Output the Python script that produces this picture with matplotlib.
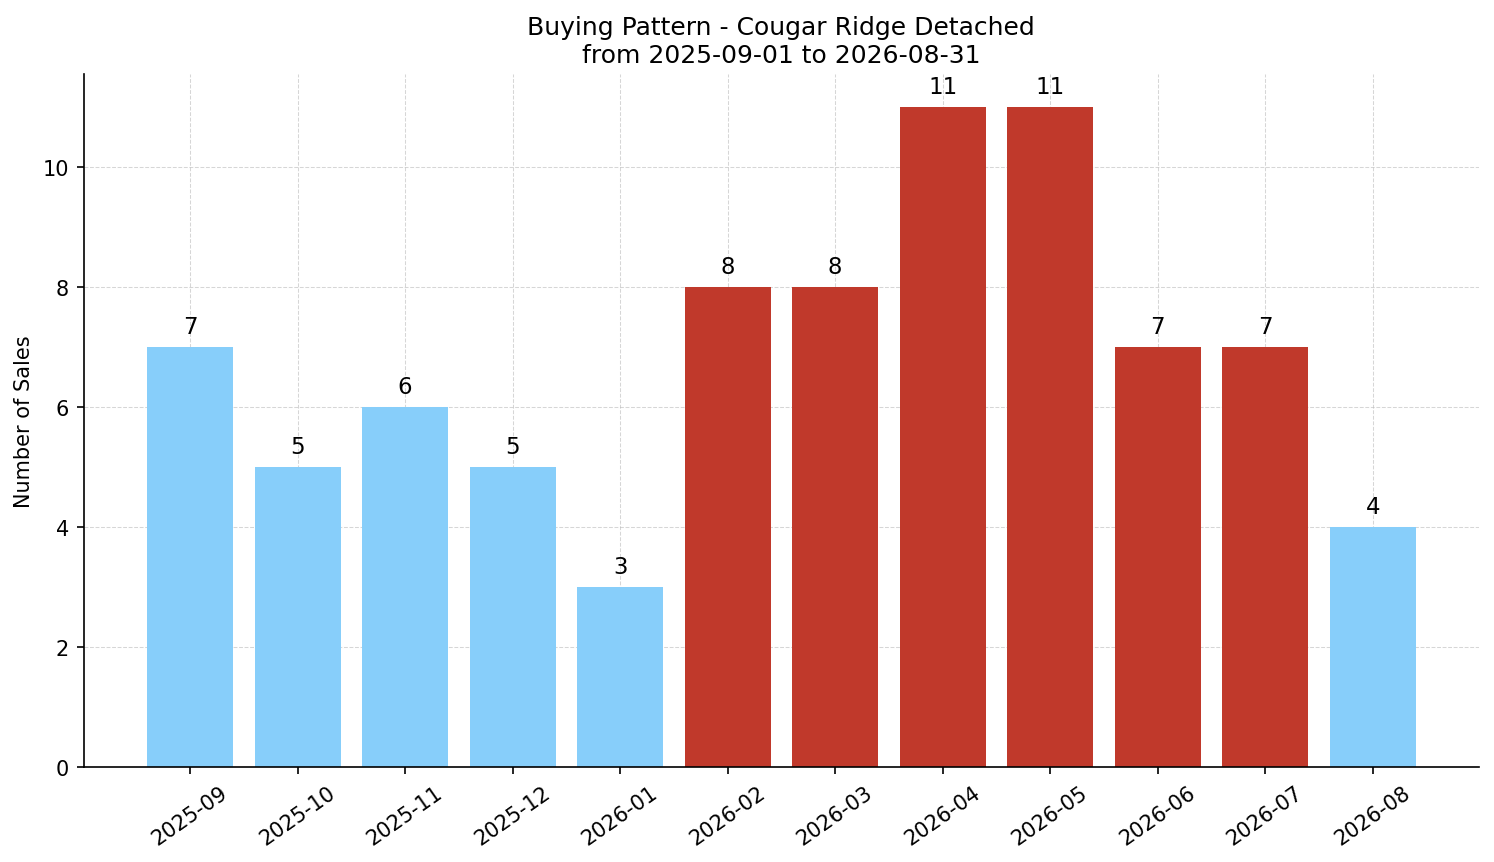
import numpy as np
import matplotlib.pyplot as plt

months = ['2025-09', '2025-10', '2025-11', '2025-12', '2026-01', '2026-02',
          '2026-03', '2026-04', '2026-05', '2026-06', '2026-07', '2026-08']
sales = [7, 5, 6, 5, 3, 8, 8, 11, 11, 7, 7, 4]
hot = [False, False, False, False, False, True, True, True, True, True, True, False]

colors = ['#c0392b' if h else '#87cefa' for h in hot]

fig, ax = plt.subplots(figsize=(9.96, 5.753), dpi=150)
x = np.arange(len(months))
bars = ax.bar(x, sales, color=colors, zorder=2)
for b, v in zip(bars, sales):
    ax.text(b.get_x() + b.get_width() / 2, v + 0.15, str(v),
            ha='center', va='bottom', fontsize=11)

ax.set_xticks(x)
ax.set_xticklabels(months, rotation=35)
ax.set_ylabel('Number of Sales')
ax.set_title('Buying Pattern - Cougar Ridge Detached\nfrom 2025-09-01 to 2026-08-31', fontsize=12)
ax.grid(True, linestyle='--', linewidth=0.5, color='#bbbbbb', alpha=0.6, zorder=3)
ax.spines['top'].set_visible(False)
ax.spines['right'].set_visible(False)
ax.set_ylim(0, 11.55)

fig.subplots_adjust(left=0.056, right=0.99, top=0.913, bottom=0.110)
fig.savefig('out.png', dpi=150)
